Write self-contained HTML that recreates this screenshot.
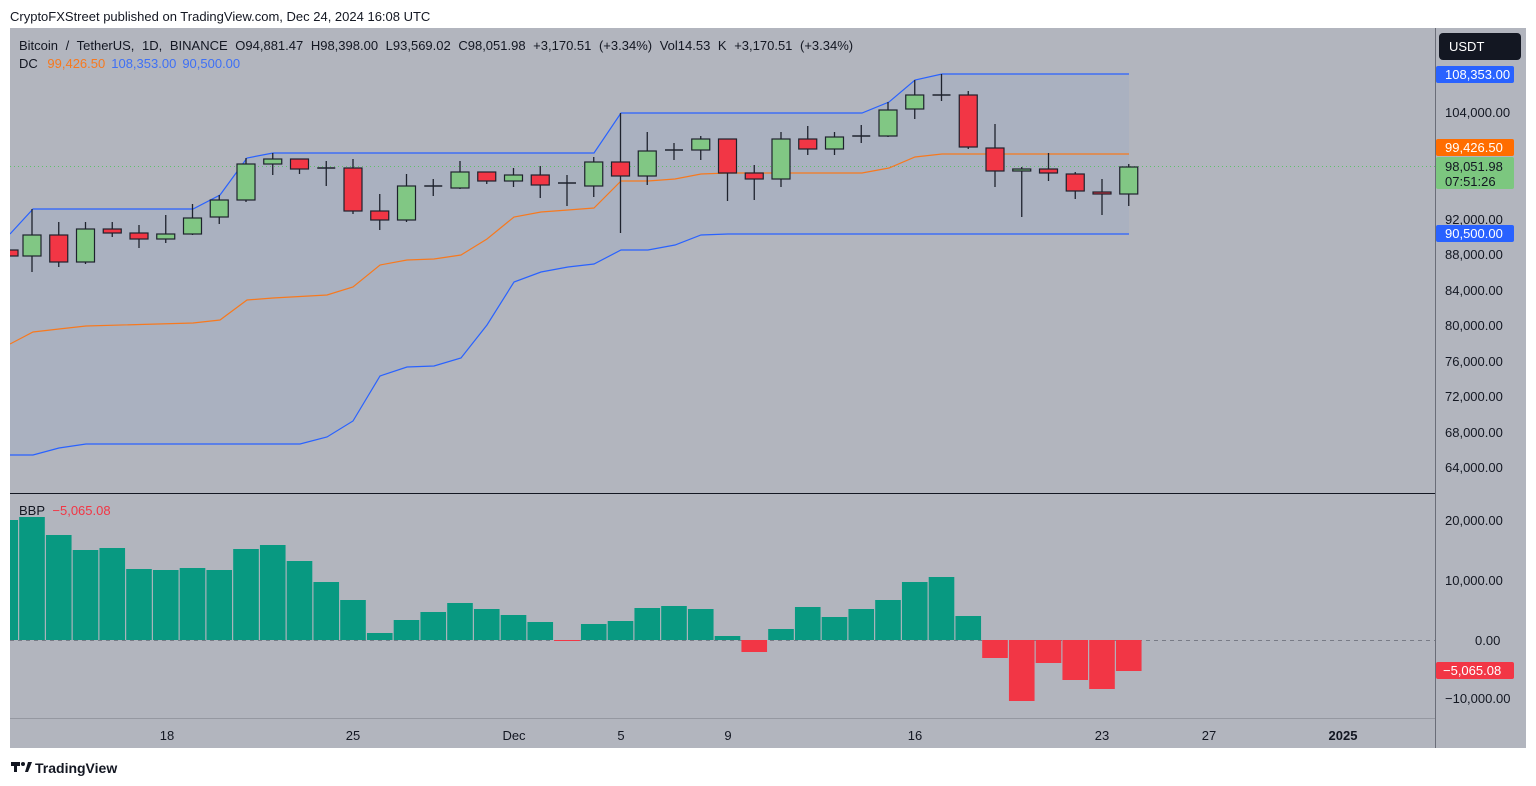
<!DOCTYPE html>
<html><head><meta charset="utf-8"><style>
html,body{margin:0;padding:0;background:#fff;width:1536px;height:786px;overflow:hidden}
svg text{font-family:"Liberation Sans",sans-serif}
</style></head><body>
<svg id="s" width="1536" height="786" xmlns="http://www.w3.org/2000/svg">
<defs><clipPath id="cp"><rect x="10" y="28" width="1425" height="690"/></clipPath></defs>
<rect x="0" y="0" width="1536" height="786" fill="#fff"/>
<text x="10" y="21" font-size="13" fill="#131722">CryptoFXStreet published on TradingView.com, Dec 24, 2024 16:08 UTC</text>
<rect x="10" y="28" width="1516" height="720" fill="#b2b5be"/>
<polygon id="fill" fill="#a8b0c0" opacity="0.9"/>
<line x1="10" y1="493.5" x2="1435" y2="493.5" stroke="#131722" stroke-width="1"/>
<line x1="1435.5" y1="28" x2="1435.5" y2="748" stroke="#6a6d78" stroke-width="1"/>
<line x1="10" y1="718.5" x2="1435" y2="718.5" stroke="#9598a1" stroke-width="1"/>
<line x1="10" y1="166.5" x2="1435" y2="166.5" stroke="#5fbf6a" stroke-width="1" stroke-dasharray="1,3"/>
<line x1="10" y1="640.5" x2="1435" y2="640.5" stroke="#787b86" stroke-width="1" stroke-dasharray="4,4"/>
<g id="g" clip-path="url(#cp)"></g>
<text x="19" y="50" font-size="13" fill="#131722" word-spacing="4">Bitcoin / TetherUS, 1D, BINANCE  O94,881.47  H98,398.00  L93,569.02  C98,051.98  +3,170.51 (+3.34%)  Vol14.53 K  +3,170.51 (+3.34%)</text>
<text x="19" y="68" font-size="13" fill="#131722">DC <tspan fill="#f7791e" dx="6">99,426.50</tspan><tspan fill="#3e70f5" dx="6">108,353.00</tspan><tspan fill="#3e70f5" dx="6">90,500.00</tspan></text>
<text x="19" y="515" font-size="13" fill="#131722">BBP <tspan fill="#f23645" dx="4">−5,065.08</tspan></text>
<g font-size="13" fill="#131722">
<text x="1445" y="117">104,000.00</text>
<text x="1445" y="224">92,000.00</text>
<text x="1445" y="259">88,000.00</text>
<text x="1445" y="295">84,000.00</text>
<text x="1445" y="330">80,000.00</text>
<text x="1445" y="366">76,000.00</text>
<text x="1445" y="401">72,000.00</text>
<text x="1445" y="437">68,000.00</text>
<text x="1445" y="472">64,000.00</text>
<text x="1445" y="525">20,000.00</text>
<text x="1445" y="585">10,000.00</text>
<text x="1475" y="645">0.00</text>
<text x="1445" y="703">−10,000.00</text>
</g>
<rect x="1439" y="33" width="82" height="27" rx="4" fill="#131722"/>
<text x="1449" y="51" font-size="13" fill="#fff">USDT</text>
<rect x="1436" y="66" width="78" height="17" rx="2" fill="#2962ff"/>
<text x="1445" y="79" font-size="13" fill="#fff">108,353.00</text>
<rect x="1436" y="139" width="78" height="17" rx="2" fill="#ff6d00"/>
<text x="1445" y="152" font-size="13" fill="#fff">99,426.50</text>
<rect x="1436" y="157" width="78" height="32" rx="2" fill="#7cc77f"/>
<text x="1445" y="171" font-size="13" fill="#131722">98,051.98</text>
<text x="1445" y="186" font-size="13" fill="#131722">07:51:26</text>
<rect x="1436" y="225" width="78" height="17" rx="2" fill="#2962ff"/>
<text x="1445" y="238" font-size="13" fill="#fff">90,500.00</text>
<rect x="1436" y="662" width="78" height="17" rx="2" fill="#f23645"/>
<text x="1443" y="675" font-size="13" fill="#fff">−5,065.08</text>
<g font-size="13" fill="#131722" text-anchor="middle">
<text x="167" y="740">18</text><text x="353" y="740">25</text><text x="514" y="740">Dec</text>
<text x="621" y="740">5</text><text x="728" y="740">9</text><text x="915" y="740">16</text>
<text x="1102" y="740">23</text><text x="1209" y="740">27</text><text x="1343" y="740" font-weight="bold">2025</text>
</g>
<rect x="11" y="762" width="9" height="4" fill="#131722"/><rect x="14" y="762" width="3" height="10" fill="#131722"/>
<circle cx="23" cy="764" r="2" fill="#131722"/><polygon points="25,772 28,762 32,762 28,772" fill="#131722"/>
<text x="35" y="773" font-size="14" fill="#131722" font-weight="bold">TradingView</text>
</svg>
<script>
var NS="http://www.w3.org/2000/svg",g=document.getElementById("g");
function el(t,a){var e=document.createElementNS(NS,t);for(var k in a)e.setAttribute(k,a[k]);g.appendChild(e);return e;}
var X=function(i){return 32+i*26.75;};
var up=[[10,234],[33,209],[193,209],[220,195],[247,158],[273,153],[594,153],[621,113],[862,113],[889,102],[915,80],[942,74],[1129,74]];
var lo=[[10,455],[33,455],[59,448],[86,444],[300,444],[327,437],[353,421],[380,376],[407,367],[434,366],[461,358],[487,325],[514,282],[541,272],[568,267],[594,264],[621,250],[648,250],[675,245],[701,235],[728,234],[1129,234]];
var mid=[[10,344],[33,332],[59,329],[86,326],[193,323],[220,320],[247,300],[273,298],[327,295],[353,287],[380,265],[407,260],[434,259],[461,255],[487,239],[514,217],[541,212],[568,210],[594,208],[621,181],[648,181],[675,179],[701,174],[728,173],[862,173],[889,168],[915,157],[942,154],[1129,154]];
function pts(a){return a.map(function(p){return p[0]+","+p[1]}).join(" ");}
document.getElementById("fill").setAttribute("points",pts(up)+" "+pts(lo.slice().reverse()));
el("polyline",{points:pts(up),fill:"none",stroke:"#2962ff","stroke-width":1.2});
el("polyline",{points:pts(lo),fill:"none",stroke:"#2962ff","stroke-width":1.2});
el("polyline",{points:pts(mid),fill:"none",stroke:"#f7791e","stroke-width":1.2});
var bb=[520,517,535,550,548,569,570,568,570,549,545,561,582,600,633,620,612,603,609,615,622,641,624,621,608,606,609,636,652,629,607,617,609,600,582,577,616,658,701,663,680,689,671];
for(var i=0;i<bb.length;i++){var cx=X(i-1),x0=Math.max(10,cx-12.8),x1=cx+12.8,t=bb[i];
 var red=t>640;el("rect",{x:x0,y:red?640:t,width:x1-x0,height:Math.abs(t-640)||1,fill:red?"#f23645":"#089981"});}
var c=[[250,256,248,258,'r'],[235,256,209,272,'g'],[235,262,222,267,'r'],[229,262,222,264,'g'],[229,233,222,237,'r'],[233,239,225,248,'r'],[234,239,215,243,'g'],[218,234,204,235,'g'],[200,217,195,224,'g'],[164,200,158,202,'g'],[159,164,153,175,'g'],[159,169,159,174,'r'],[168,169,161,186,'d'],[168,211,159,214,'r'],[211,220,194,230,'r'],[186,220,174,222,'g'],[186,187,179,196,'d'],[172,188,161,189,'g'],[172,181,172,184,'r'],[175,181,168,187,'g'],[175,185,166,198,'r'],[183,184,175,206,'d'],[162,186,157,197,'g'],[162,176,113,233,'r'],[151,176,132,185,'g'],[150,151,143,160,'d'],[139,150,136,160,'g'],[139,173,139,201,'r'],[173,179,165,200,'r'],[139,179,132,187,'g'],[139,149,126,155,'r'],[137,149,132,155,'g'],[136,137,125,143,'d'],[110,136,102,137,'g'],[95,109,80,119,'g'],[95,96,74,101,'d'],[95,147,91,149,'r'],[148,171,124,187,'r'],[169,171,167,217,'g'],[169,173,153,181,'r'],[174,191,172,199,'r'],[192,194,179,215,'r'],[167,194,164,206,'g']];
for(var i=0;i<c.length;i++){var k=c[i],cx=X(i-1);
 if(i==0){el("rect",{x:9,y:k[0],width:9,height:k[1]-k[0],fill:"#f23645",stroke:"#1e222d","stroke-width":1.2});continue;}
 el("line",{x1:cx,y1:k[2],x2:cx,y2:k[3],stroke:"#1e222d","stroke-width":1.3});
 if(k[4]=='d'){el("line",{x1:cx-9,y1:k[0],x2:cx+9,y2:k[0],stroke:"#1e222d","stroke-width":1.5});continue;}
 el("rect",{x:cx-9,y:k[0],width:18,height:Math.max(2,k[1]-k[0]),fill:k[4]=='g'?"#81c784":"#f23645",stroke:"#1e222d","stroke-width":1.2});}
</script>
</body></html>
